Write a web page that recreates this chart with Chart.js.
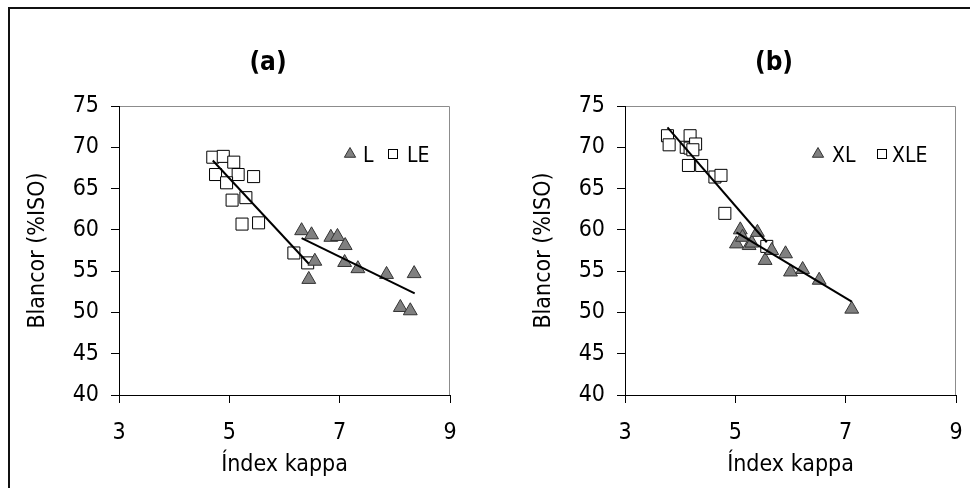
<!DOCTYPE html>
<html>
<head>
<meta charset="utf-8">
<script src="https://cdn.jsdelivr.net/npm/chart.js@4/dist/chart.umd.min.js"></script>
<style>
  html, body { margin: 0; padding: 0; background: #fff; overflow: hidden; }
  .frame { position: absolute; left: 8px; top: 7px; width: 1000px; height: 520px; border: 2px solid #111; }
  canvas { position: absolute; top: 10px; }
  #chartA { left: 10px; }
  #chartB { left: 516px; }
</style>
</head>
<body>
<div class="frame"></div>
<canvas id="chartA" width="480" height="478"></canvas>
<canvas id="chartB" width="480" height="478"></canvas>
<script>
const FONT = "'DejaVu Sans Condensed', 'DejaVu Sans', sans-serif";

// panel (a): L and LE pulps
const lKappa    = [6.31, 6.49, 6.84, 6.96, 7.10, 6.55, 6.44, 7.09, 7.33, 7.85, 8.35, 8.10, 8.28];
const lBlancor  = [59.9, 59.4, 59.1, 59.2, 58.1, 56.2, 54.0, 56.05, 55.3, 54.6, 54.7, 50.6, 50.2];
const leKappa   = [4.70, 4.89, 5.08, 4.75, 5.16, 5.44, 4.95, 5.05, 5.30, 5.23, 5.53, 6.17, 6.42];
const leBlancor = [68.8, 68.9, 68.2, 66.7, 66.7, 66.45, 65.7, 63.6, 63.9, 60.7, 60.85, 57.2, 56.0];
const lTrendKappa    = [6.31, 8.36];
const lTrendBlancor  = [59.0, 52.3];
const leTrendKappa   = [4.70, 6.44];
const leTrendBlancor = [68.4, 55.9];

// panel (b): XL and XLE pulps
const xlKappa    = [5.09, 5.02, 5.13, 5.25, 5.30, 5.40, 5.54, 5.66, 5.91, 6.00, 6.22, 6.52, 7.11];
const xlBlancor  = [60.0, 58.3, 59.1, 58.1, 58.4, 59.7, 56.3, 57.5, 57.1, 54.9, 55.2, 53.9, 50.4];
const xleKappa   = [3.77, 3.80, 4.18, 4.11, 4.18, 4.28, 4.23, 4.15, 4.39, 4.63, 4.74, 4.81, 5.57];
const xleBlancor = [71.4, 70.3, 71.4, 70.0, 69.9, 70.4, 69.7, 67.8, 67.8, 66.4, 66.6, 62.0, 58.0];
const xlTrendKappa    = [5.02, 7.11];
const xlTrendBlancor  = [59.7, 51.3];
const xleTrendKappa   = [3.77, 5.57];
const xleTrendBlancor = [72.4, 58.5];

const xTicks = [3, 5, 7, 9];
const yTicks = [40, 45, 50, 55, 60, 65, 70, 75];

const xAxisTitle = 'Índex kappa';
const yAxisTitle = 'Blancor (%ISO)';

function pts(xs, ys) {
  return xs.map((x, i) => ({ x: x, y: ys[i] }));
}

function drawTriangle(ctx, x, y, r) {
  ctx.beginPath();
  ctx.moveTo(x, y - r);
  ctx.lineTo(x + r * 0.866, y + r * 0.5);
  ctx.lineTo(x - r * 0.866, y + r * 0.5);
  ctx.closePath();
  ctx.fillStyle = '#808080';
  ctx.fill();
  ctx.strokeStyle = '#333';
  ctx.lineWidth = 1;
  ctx.stroke();
}

function drawSquare(ctx, x, y, s) {
  ctx.fillStyle = '#fff';
  ctx.fillRect(x - s / 2, y - s / 2, s, s);
  ctx.strokeStyle = '#000';
  ctx.lineWidth = 1;
  ctx.strokeRect(x - s / 2 + 0.5, y - s / 2 + 0.5, s - 1, s - 1);
}

// panel title, legend and grey frame of the plot area
const decor = {
  id: 'decor',
  afterDraw(chart, args, opts) {
    const ctx = chart.ctx;
    const a = chart.chartArea;
    ctx.save();
    ctx.strokeStyle = '#8c8c8c';
    ctx.lineWidth = 1;
    ctx.beginPath();
    ctx.moveTo(a.left + 1, a.top + 0.5);
    ctx.lineTo(a.right - 0.5, a.top + 0.5);
    ctx.lineTo(a.right - 0.5, a.bottom);
    ctx.stroke();

    ctx.fillStyle = '#000';
    ctx.font = 'bold 26px ' + FONT;
    ctx.textAlign = 'center';
    ctx.textBaseline = 'middle';
    ctx.fillText(opts.title, 258, 53);

    const ly = 144;
    drawTriangle(ctx, a.left + opts.leg[0], ly, 6.5);
    drawSquare(ctx, a.left + opts.leg[2], ly, 10);
    ctx.fillStyle = '#000';
    ctx.font = '21px ' + FONT;
    ctx.textAlign = 'left';
    ctx.textBaseline = 'alphabetic';
    ctx.fillText(opts.names[0], a.left + opts.leg[1], ly + 8);
    ctx.fillText(opts.names[1], a.left + opts.leg[3], ly + 8);
    ctx.restore();
  }
};

function makeChart(id, title, names, leg, tri, sq, triTrend, sqTrend) {
  const lineStyle = {
    type: 'line', showLine: true, borderColor: '#000', borderWidth: 2,
    pointRadius: 0, fill: false, order: 0
  };
  return new Chart(document.getElementById(id), {
    type: 'scatter',
    data: {
      datasets: [
        Object.assign({ data: pts(triTrend[0], triTrend[1]) }, lineStyle),
        Object.assign({ data: pts(sqTrend[0], sqTrend[1]) }, lineStyle),
        {
          label: names[0], data: pts(tri[0], tri[1]), order: 1,
          pointStyle: 'triangle', pointRadius: 8,
          backgroundColor: '#808080', borderColor: '#333', borderWidth: 1
        },
        {
          label: names[1], data: pts(sq[0], sq[1]), order: 2,
          pointStyle: 'rect', pointRadius: 8.5,
          backgroundColor: '#fff', borderColor: '#000', borderWidth: 1
        }
      ]
    },
    options: {
      responsive: false,
      animation: false,
      layout: { padding: { left: 0, top: 96, right: 40, bottom: 0 } },
      plugins: {
        legend: { display: false },
        tooltip: { enabled: false },
        decor: { title: title, names: names, leg: leg }
      },
      scales: {
        x: {
          type: 'linear', min: 3, max: 9,
          afterFit: s => { s.height = 93; },
          afterBuildTicks: s => { s.ticks = xTicks.map(v => ({ value: v })); },
          ticks: { color: '#000', font: { family: FONT, size: 23 }, padding: 16 },
          grid: { display: true, drawOnChartArea: false, drawTicks: true, tickLength: 8, color: '#000' },
          border: { display: true, color: '#000', width: 1 },
          title: { display: true, text: xAxisTitle, color: '#000', font: { family: FONT, size: 23 }, padding: { top: 0, bottom: 9 } }
        },
        y: {
          type: 'linear', min: 40, max: 75,
          afterFit: s => { s.width = 109; },
          afterBuildTicks: s => { s.ticks = yTicks.map(v => ({ value: v })); },
          ticks: { color: '#000', font: { family: FONT, size: 23 }, padding: 12 },
          grid: { display: true, drawOnChartArea: false, drawTicks: true, tickLength: 8, color: '#000' },
          border: { display: true, color: '#000', width: 1 },
          title: { display: true, text: yAxisTitle, color: '#000', font: { family: FONT, size: 23 }, padding: { top: 14, bottom: 0 } }
        }
      }
    },
    plugins: [decor]
  });
}

makeChart('chartA', '(a)', ['L', 'LE'], [231, 244, 274, 288],
  [lKappa, lBlancor], [leKappa, leBlancor],
  [lTrendKappa, lTrendBlancor], [leTrendKappa, leTrendBlancor]);

makeChart('chartB', '(b)', ['XL', 'XLE'], [193, 207, 257, 267],
  [xlKappa, xlBlancor], [xleKappa, xleBlancor],
  [xlTrendKappa, xlTrendBlancor], [xleTrendKappa, xleTrendBlancor]);
</script>
</body>
</html>
